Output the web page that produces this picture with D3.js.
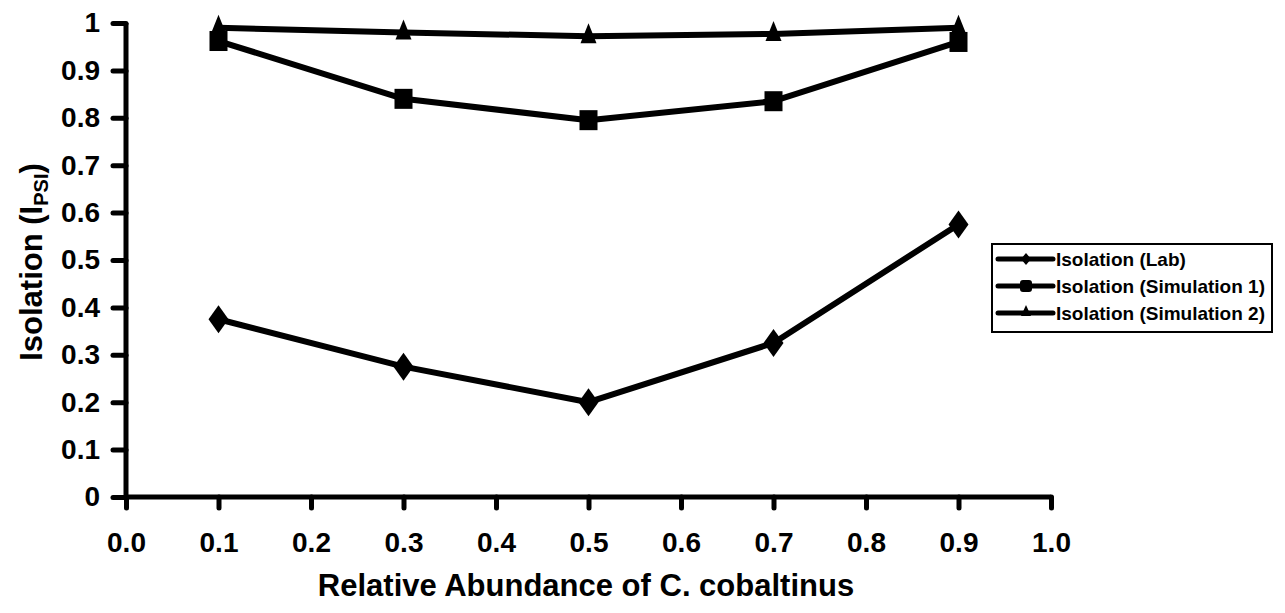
<!DOCTYPE html>
<html><head><meta charset="utf-8">
<script src="https://cdn.jsdelivr.net/npm/d3@7"></script>
<style>body{margin:0;background:#fff}svg{display:block}text{font-family:"Liberation Sans",Arial,sans-serif;font-weight:bold;fill:#000}</style>
</head><body>
<script>
const xValues = [0.1, 0.3, 0.5, 0.7, 0.9];
const labValues = [0.375, 0.275, 0.2, 0.325, 0.575];
const sim1Values = [0.962, 0.84, 0.795, 0.835, 0.96];
const sim2Values = [0.99, 0.98, 0.972, 0.977, 0.99];
const seriesNames = ["Isolation (Lab)", "Isolation (Simulation 1)", "Isolation (Simulation 2)"];
const xTicks = [0.0,0.1,0.2,0.3,0.4,0.5,0.6,0.7,0.8,0.9,1.0];
const yTicks = [0,0.1,0.2,0.3,0.4,0.5,0.6,0.7,0.8,0.9,1];

const W=1285,H=613;
const svg=d3.select("body").append("svg").attr("width",W).attr("height",H);
const x=d3.scaleLinear().domain([0,1]).range([126,1051]);
const y=d3.scaleLinear().domain([0,1]).range([497,23]);

// axes
const yAxis=d3.axisLeft(y).tickValues(yTicks).tickSize(13).tickPadding(13).tickFormat(d=>d===0||d===1?String(d):d3.format(".1f")(d));
const gy=svg.append("g").attr("transform","translate(126,0)").call(yAxis);
const xAxis=d3.axisBottom(x).tickValues(xTicks).tickSize(11).tickPadding(24).tickFormat(d3.format(".1f"));
const gx=svg.append("g").attr("transform","translate(0,497)").call(xAxis);
[gx,gy].forEach(g=>{
  g.select(".domain").remove();
  g.selectAll(".tick line").attr("stroke","#000").attr("stroke-width",5).attr("stroke-linecap","round");
  g.selectAll(".tick text").style("font-size","28px").attr("fill","#000");
});
svg.append("line").attr("x1",126).attr("x2",126).attr("y1",y(1)).attr("y2",y(0)+2).attr("stroke","#000").attr("stroke-width",5);
svg.append("line").attr("x1",124).attr("x2",x(1)).attr("y1",497).attr("y2",497).attr("stroke","#000").attr("stroke-width",5);

// titles
svg.append("text").attr("x",586).attr("y",596).attr("text-anchor","middle").style("font-size","31px").text("Relative Abundance of C. cobaltinus");
const yt=svg.append("text").attr("transform","translate(42,262) rotate(-90)").attr("text-anchor","middle").style("font-size","31px");
yt.append("tspan").text("Isolation (I");
yt.append("tspan").text("PSI").style("font-size","20px").attr("dy",6);
yt.append("tspan").text(")").attr("dy",-6);

const series=[
  {name:seriesNames[0],vals:labValues,shape:"diamond"},
  {name:seriesNames[1],vals:sim1Values,shape:"square"},
  {name:seriesNames[2],vals:sim2Values,shape:"triangle"}
];
function marker(g,shape,cx,cy){
  if(shape==="diamond") g.append("path").attr("d",`M${cx},${cy-14}L${cx+10},${cy}L${cx},${cy+14}L${cx-10},${cy}Z`);
  else if(shape==="square") g.append("rect").attr("x",cx-9).attr("y",cy-10).attr("width",18).attr("height",20);
  else g.append("path").attr("d",`M${cx},${cy-13}L${cx+8},${cy+7}L${cx-8},${cy+7}Z`);
}
const line=d3.line().x(d=>x(d[0])).y(d=>y(d[1]));
series.forEach(s=>{
  const pts=xValues.map((v,i)=>[v,s.vals[i]]);
  svg.append("path").attr("d",line(pts)).attr("fill","none").attr("stroke","#000").attr("stroke-width",6).attr("stroke-linejoin","round");
  const g=svg.append("g").attr("fill","#000");
  pts.forEach(p=>marker(g,s.shape,x(p[0]),y(p[1])));
});

// legend
svg.append("rect").attr("x",992).attr("y",244).attr("width",280).attr("height",88).attr("fill","#fff").attr("stroke","#000").attr("stroke-width",2);
series.forEach((s,i)=>{
  const ly=259+i*27;
  svg.append("line").attr("x1",998).attr("x2",1053).attr("y1",ly).attr("y2",ly).attr("stroke","#000").attr("stroke-width",5).attr("stroke-linecap","round");
  const g=svg.append("g").attr("fill","#000");
  if(s.shape==="diamond") g.append("path").attr("d",`M1026,${ly-6}L1031,${ly}L1026,${ly+6}L1021,${ly}Z`);
  else if(s.shape==="square") g.append("rect").attr("x",1020).attr("y",ly-6).attr("width",12).attr("height",12).attr("rx",3);
  else g.append("path").attr("d",`M1026,${ly-8}L1031,${ly+3}L1021,${ly+3}Z`);
  svg.append("text").attr("x",1056).attr("y",ly+7).style("font-size","19px").text(s.name);
});
</script>
</body></html>
